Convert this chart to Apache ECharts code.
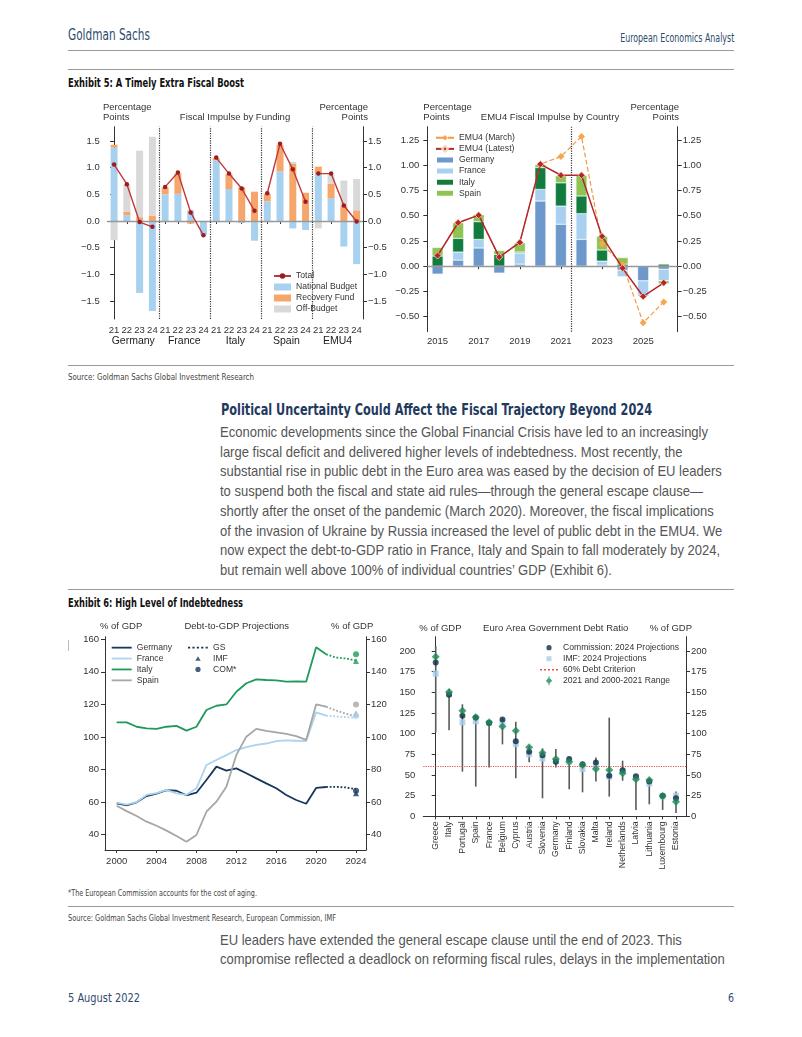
<!DOCTYPE html>
<html><head><meta charset="utf-8">
<script src="https://cdn.jsdelivr.net/npm/echarts@6/dist/echarts.min.js"></script>
<style>
html,body{margin:0;padding:0;background:#fff;}
#page{position:relative;width:802px;height:1037px;overflow:hidden;font-family:"Liberation Sans",Arial,sans-serif;}
.c{position:absolute;left:0;top:0;width:802px;height:1037px;}
.t{position:absolute;white-space:nowrap;line-height:1;transform-origin:left center;}
.r{transform-origin:right center;}
.rule{position:absolute;left:68px;width:666px;height:0;border-top:1px solid #9a9a9a;}
.hd{font-family:"Liberation Sans Narrow","DejaVu Sans Condensed","Liberation Sans",sans-serif;}
.body{font-size:14.5px;color:#555;}
</style></head><body><div id="page">
<div class="t hd" style="left:68px;top:28px;font-size:15px;color:#2e4b6e;" data-w="82">Goldman Sachs</div>
<div class="t hd r" style="right:68px;top:32px;font-size:12px;color:#2e4b6e;" data-w="114">European Economics Analyst</div>
<div class="rule" style="top:50px;"></div>
<div class="rule" style="top:69px;"></div>
<div class="t hd" style="left:68px;top:77px;font-size:12px;font-weight:bold;color:#111;" data-w="176">Exhibit 5: A Timely Extra Fiscal Boost</div>
<div class="rule" style="top:365px;"></div>
<div class="t hd" style="left:68px;top:372.5px;font-size:9px;color:#444;" data-w="186">Source: Goldman Sachs Global Investment Research</div>
<div class="t hd" style="left:221px;top:402px;font-size:16px;font-weight:bold;color:#1f3a5f;" data-w="431">Political Uncertainty Could Affect the Fiscal Trajectory Beyond 2024</div>
<div class="t body" id="b0" style="left:220px;top:425px;">Economic developments since the Global Financial Crisis have led to an increasingly</div>
<div class="t body" style="left:220px;top:444.7px;">large fiscal deficit and delivered higher levels of indebtedness. Most recently, the</div>
<div class="t body" style="left:220px;top:464.4px;">substantial rise in public debt in the Euro area was eased by the decision of EU leaders</div>
<div class="t body" style="left:220px;top:484.1px;">to suspend both the fiscal and state aid rules—through the general escape clause—</div>
<div class="t body" style="left:220px;top:503.8px;">shortly after the onset of the pandemic (March 2020). Moreover, the fiscal implications</div>
<div class="t body" style="left:220px;top:523.5px;">of the invasion of Ukraine by Russia increased the level of public debt in the EMU4. We</div>
<div class="t body" style="left:220px;top:543.2px;">now expect the debt-to-GDP ratio in France, Italy and Spain to fall moderately by 2024,</div>
<div class="t body" style="left:220px;top:562.9px;">but remain well above 100% of individual countries’ GDP (Exhibit 6).</div>
<div class="rule" style="top:589px;"></div>
<div class="t hd" style="left:68px;top:597px;font-size:12px;font-weight:bold;color:#111;" data-w="175">Exhibit 6: High Level of Indebtedness</div>
<div style="position:absolute;left:68px;top:640px;width:1px;height:11px;background:#bbb;"></div>
<div class="t hd" style="left:68px;top:888.5px;font-size:9px;color:#444;" data-w="189">*The European Commission accounts for the cost of aging.</div>
<div class="rule" style="top:906px;"></div>
<div class="t hd" style="left:68px;top:913.5px;font-size:9px;color:#444;" data-w="268">Source: Goldman Sachs Global Investment Research, European Commission, IMF</div>
<div class="t body" style="left:220px;top:932.5px;">EU leaders have extended the general escape clause until the end of 2023. This</div>
<div class="t body" style="left:220px;top:952.2px;">compromise reflected a deadlock on reforming fiscal rules, delays in the implementation</div>
<div class="t hd" style="left:68px;top:992px;font-size:12px;color:#2e4b6e;" data-w="72">5 August 2022</div>
<div class="t hd r" style="right:68px;top:992px;font-size:12px;color:#2e4b6e;" data-w="6">6</div>
<div class="c" id="c1"></div>
<div class="c" id="c2"></div>
<div class="c" id="c3"></div>
<div class="c" id="c4"></div>
</div>
<script>
// ===== Exhibit 5 (left): Fiscal Impulse by Funding =====
const fundGroups = ['Germany','France','Italy','Spain','EMU4'];
const fundYears = ['21','22','23','24'];
const nationalBudget = [1.38,0.11,-1.35,-1.69, 0.50,0.51,0.18,-0.26, 1.14,0.60,-0.04,-0.37, 0.37,0.93,-0.14,-0.17, 0.875,0.43,-0.48,-0.81];
const recoveryFund   = [0.05,0.06,0.07,0.10, 0.13,0.38,-0.05,0.00, 0.04,0.28,0.63,0.55, 0.14,0.50,1.07,0.53, 0.145,0.27,0.28,0.20];
const offBudget      = [-0.36,0.51,1.25,1.48, 0,0,0.03,0, 0,0,0,0, 0,0,0.04,0, -0.14,0.17,0.48,0.59];
const totalImpulse   = [1.06,0.69,-0.02,-0.11, 0.64,0.91,0.16,-0.27, 1.19,0.89,0.61,0.19, 0.52,1.45,0.97,0.36, 0.89,0.89,0.29,-0.01];
const fundTicks = [-1.5,-1,-0.5,0,0.5,1,1.5];

// ===== Exhibit 5 (right): EMU4 Fiscal Impulse by Country =====
const impulseYears = [2015,2016,2017,2018,2019,2020,2021,2022,2023,2024,2025,2026];
const impGermany = [-0.08,0.06,0.18,-0.07,0.02,0.645,0.415,0.265,0.01,-0.04,-0.145,-0.03];
const impFrance  = [0,0.08,0.085,0,0.11,0.115,0.18,0.255,0.04,-0.065,-0.135,-0.115];
const impItaly   = [0.10,0.135,0.175,0.115,0.01,0.215,0.23,0.175,0.11,0.02,-0.015,0.02];
const impSpain   = [0.085,0.155,0.07,0.04,0.09,0.03,0.07,0.205,0.135,0.065,0,-0.03];
const emu4Latest = [0.105,0.43,0.505,0.09,0.235,1.01,0.90,0.90,0.295,-0.02,-0.30,-0.165];
const emu4March  = [0.105,0.43,0.505,0.09,0.235,1.01,1.085,1.285,0.22,0.015,-0.56,-0.355];
const impYearLabels = [2015,2017,2019,2021,2023,2025];
const impTicks = [-0.5,-0.25,0,0.25,0.5,0.75,1,1.25];

// ===== Exhibit 6 (left): Debt-to-GDP Projections =====
const debtYears = [2000,2001,2002,2003,2004,2005,2006,2007,2008,2009,2010,2011,2012,2013,2014,2015,2016,2017,2018,2019,2020,2021];
const debtGermany = [59.2,58.0,59.9,63.7,65.2,67.4,67.0,64.2,65.8,73.6,81.8,79.3,80.7,77.7,74.6,71.5,68.5,64.4,61.3,59.0,68.7,69.3];
const debtFrance  = [59.7,58.5,60.0,64.4,65.5,67.5,65.4,64.5,68.5,82.8,85.9,88.9,92.0,93.8,95.1,96.0,97.5,97.9,97.7,97.5,115.1,113.1];
const debtItaly   = [109.0,109.0,106.3,105.3,105.0,106.3,106.8,103.9,106.3,116.6,119.2,120.0,127.8,133.0,135.4,135.0,134.8,134.0,134.2,134.0,155.1,150.8];
const debtSpain   = [57.8,54.5,51.5,48.0,45.5,42.5,39.2,35.7,39.8,54.1,60.3,69.5,89.0,100.2,105.0,103.7,102.8,101.9,100.5,98.2,120.0,118.6];
const projYears = [2021,2022,2023,2024];
const gsGermany = [69.3,69.4,69.0,68.0];
const gsFrance  = [113.1,112.6,112.2,111.8];
const gsItaly   = [150.8,148.8,148.2,146.9];
const gsSpain   = [118.6,116.3,114.2,112.6];
const projCountries = ['Germany','France','Italy','Spain'];
const imf2024Debt = [65.5,113.6,146.7,114.6];
const com2024Debt = [67.0,113.0,150.8,120.0];
const debtYearLabels = [2000,2004,2008,2012,2016,2020,2024];
const debtTicks = [40,60,80,100,120,140,160];

// ===== Exhibit 6 (right): Euro Area Government Debt Ratio =====
const eaCountries = ['Greece','Italy','Portugal','Spain','France','Belgium','Cyprus','Austria','Slovenia','Germany','Finland','Slovakia','Malta','Ireland','Netherlands','Latvia','Lithuania','Luxembourg','Estonia'];
const eaCommission = [186,147,121.8,119.5,113,117,90.7,78.2,74,66,69.4,62.9,65,49,55.6,48.4,42,25,21.8];
const eaIMF        = [172.6,148,113.7,115,113,112.5,87.5,75,70,67.3,66,57.3,61.3,48,54,46.8,39.5,24,25];
const ea2021       = [193,150.4,127.8,119.8,113.7,108.5,103.6,83.5,77,69.4,66.1,62.1,57.3,56,52,44.8,44,24.6,17.7];
const eaRangeMin   = [101.6,104,54,35.9,58.9,87,46,65.3,21.8,58.9,32.7,29,42,23.8,43,7.7,14.5,7.7,4];
const eaRangeMax   = [206,154,135.5,122.6,115.3,118.5,114.5,85,82.3,81.5,71.4,65,71,119.4,67.3,49.2,46,25.8,30];
const debtCriterion = 60;
const eaTicks = [0,25,50,75,100,125,150,175,200];

const FF = 'Liberation Sans';
const AX = '#333';
const FS = 9.5;
const LFS = 8.6;
function minus(v, d){ return (v < 0 ? '\u2212' : '') + Math.abs(v).toFixed(d); }
function txt(x, y, s, align){ return {type:'text', x:x, y:y, silent:true, style:{text:s, fill:'#333', fontFamily:FF, fontSize:FS, align:align||'left', verticalAlign:'middle'}}; }
function yAx(pos, min, max, ticks, fmt, margin, extra){
  return Object.assign({type:'value', position:pos, min:min, max:max,
    axisLine:{show:true, lineStyle:{color:AX, width:1}},
    axisTick:{show:true, length:4, lineStyle:{color:AX}, customValues:ticks},
    axisLabel:{customValues:ticks, formatter:fmt, color:'#333', fontFamily:FF, fontSize:FS, margin:margin},
    splitLine:{show:false}}, extra||{});
}
function legendText(lh){ return {fontSize:LFS, color:'#333', fontFamily:FF, lineHeight:lh}; }
// legend icon paths (box points first so the icon keeps its place inside the item box)
const ICON_LINE = 'path://M0,0 M20,7 M0,2.6 L20,2.6 L20,4.4 L0,4.4 Z';
const ICON_DOTS = 'path://M0,0 M20,7 M0,2.6h2.2v1.8h-2.2z M4.4,2.6h2.2v1.8h-2.2z M8.8,2.6h2.2v1.8h-2.2z M13.2,2.6h2.2v1.8h-2.2z M17.6,2.6h2.2v1.8h-2.2z';
const ICON_TRI  = 'path://M0,0 M20,7 M7.3,5.8 L10,1.2 L12.7,5.8 Z';
const ICON_DOT  = 'path://M0,0 M20,7 M7.4,3.5 A2.6,2.6 0 1,0 12.6,3.5 A2.6,2.6 0 1,0 7.4,3.5 Z';
const ICON_SQ   = 'path://M0,0 M18,9 M6.5,2 h5 v5 h-5 Z';
const ICON_DOT9 = 'path://M0,0 M18,9 M6.4,4.5 A2.6,2.6 0 1,0 11.6,4.5 A2.6,2.6 0 1,0 6.4,4.5 Z';
const ICON_RED  = 'path://M0,0 M18,9 M0,3.7h2v1.6h-2z M4,3.7h2v1.6h-2z M8,3.7h2v1.6h-2z M12,3.7h2v1.6h-2z M16,3.7h2v1.6h-2z';
const ICON_RNG  = 'path://M0,0 M18,9 M8.5,0 h1 v9 h-1 Z M9,1.2 L12.2,4.5 L9,7.8 L5.8,4.5 Z';

// ---------- chart 1 ----------
const fundCats = [];
fundGroups.forEach(g => fundYears.forEach(y => fundCats.push(g + ' ' + y)));
const c1 = echarts.init(document.getElementById('c1'));
const totalSeries = fundGroups.map((g, gi) => ({
  type:'line', name:'Total', xAxisIndex:0, yAxisIndex:0,
  data: totalImpulse.map((v, i) => Math.floor(i/4) === gi ? v : null),
  connectNulls:false, symbol:'circle', symbolSize:4.5,
  lineStyle:{color:'#c0393b', width:1.4}, itemStyle:{color:'#9b1c22'}, z:5
}));
c1.setOption({
  animation:false, textStyle:{fontFamily:FF},
  grid:{left:107.7, top:126.7, width:255.3, height:192.3},
  xAxis:[
    {type:'category', data:fundCats, gridIndex:0,
      axisLine:{lineStyle:{color:AX}}, axisTick:{show:true, alignWithLabel:true, length:3, lineStyle:{color:AX}},
      axisLabel:{interval:0, formatter:v => v.split(' ')[1], color:'#333', fontSize:FS, margin:6}},
    {type:'category', data:fundGroups, gridIndex:0, position:'bottom', offset:11.5,
      axisLine:{show:false}, axisTick:{show:false},
      axisLabel:{interval:0, color:'#222', fontSize:10.5, margin:5.5}},
    {type:'value', gridIndex:0, min:-0.5, max:19.5, show:false}
  ],
  yAxis:[
    yAx('left', -1.84, 1.77, fundTicks, v => minus(v,1), 8),
    yAx('right', -1.84, 1.77, fundTicks, v => minus(v,1), 5)
  ],
  legend:{orient:'vertical', left:273, top:270.5, padding:0, itemWidth:17, itemHeight:7, itemGap:0,
    textStyle:legendText(11),
    data:[{name:'Total'},{name:'National Budget', icon:'rect'},{name:'Recovery Fund', icon:'rect'},{name:'Off-Budget', icon:'rect'}]},
  graphic:[txt(103,107,'Percentage'), txt(103,117.5,'Points'), txt(235,117.5,'Fiscal Impulse by Funding','center'),
           txt(368,107,'Percentage','right'), txt(368,117.5,'Points','right')],
  series:[
    {type:'bar', name:'National Budget', stack:'f', data:nationalBudget, barWidth:7, itemStyle:{color:'#a8d1f0'}},
    {type:'bar', name:'Recovery Fund', stack:'f', data:recoveryFund, barWidth:7, itemStyle:{color:'#f6a66a'}},
    {type:'bar', name:'Off-Budget', stack:'f', data:offBudget, barWidth:7, itemStyle:{color:'#d9d9d9'}},
    {type:'line', name:'zero', xAxisIndex:2, yAxisIndex:0, data:[], symbol:'none',
      markLine:{silent:true, symbol:'none', label:{show:false},
        data:[{yAxis:0, lineStyle:{color:'#999', width:1.3, type:'solid'}}].concat(
          [3.5,7.5,11.5,15.5].map(x => ({xAxis:x, lineStyle:{color:'#333', width:1.2, type:'dotted'}})))}},
    ...totalSeries
  ]
});

// ---------- chart 2 ----------
const c2 = echarts.init(document.getElementById('c2'));
const barOpt = {type:'bar', stack:'c', barWidth:11, xAxisIndex:1, yAxisIndex:2};
c2.setOption({
  animation:false, textStyle:{fontFamily:FF},
  grid:[{left:427.3, top:126.7, width:250.4, height:205}, {left:427.3, top:126.7, width:246.7, height:205}],
  xAxis:[
    {type:'value', gridIndex:0, min:2014.5, max:2026.67,
      axisLine:{lineStyle:{color:AX}}, axisTick:{length:3, lineStyle:{color:AX}, customValues:impYearLabels},
      axisLabel:{customValues:impYearLabels, formatter:v => String(v), color:'#333', fontSize:FS, margin:5}, splitLine:{show:false}},
    {type:'category', gridIndex:1, data:impulseYears.map(String), show:false}
  ],
  yAxis:[
    yAx('left', -0.649, 1.381, impTicks, v => minus(v,2), 8, {gridIndex:0}),
    yAx('right', -0.649, 1.381, impTicks, v => minus(v,2), 5, {gridIndex:0}),
    {type:'value', gridIndex:1, min:-0.649, max:1.381, show:false}
  ],
  legend:{orient:'vertical', left:435, top:132.2, padding:0, itemWidth:18, itemHeight:7, itemGap:0,
    textStyle:legendText(11.1),
    data:[{name:'EMU4 (March)'},{name:'EMU4 (Latest)'},{name:'Germany',icon:'rect'},{name:'France',icon:'rect'},{name:'Italy',icon:'rect'},{name:'Spain',icon:'rect'}]},
  graphic:[txt(423.3,107,'Percentage'), txt(423.3,117.5,'Points'), txt(550,117.5,'EMU4 Fiscal Impulse by Country','center'),
           txt(679,107,'Percentage','right'), txt(679,117.5,'Points','right')],
  series:[
    Object.assign({name:'Germany', data:impGermany, itemStyle:{color:'#6d98cc', borderColor:'#fff', borderWidth:0.4}}, barOpt),
    Object.assign({name:'France', data:impFrance, itemStyle:{color:'#a9d0f0', borderColor:'#fff', borderWidth:0.4}}, barOpt),
    Object.assign({name:'Italy', data:impItaly, itemStyle:{color:'#127c3f', borderColor:'#fff', borderWidth:0.4}}, barOpt),
    Object.assign({name:'Spain', data:impSpain, itemStyle:{color:'#8dc453', borderColor:'#fff', borderWidth:0.4}}, barOpt),
    {type:'line', name:'zero', xAxisIndex:0, yAxisIndex:0, data:[], symbol:'none',
      markLine:{silent:true, symbol:'none', label:{show:false},
        data:[{yAxis:0, lineStyle:{color:'#999', width:1.3, type:'solid'}},
              {xAxis:2021.5, lineStyle:{color:'#333', width:1.2, type:'dotted'}}]}},
    {type:'line', name:'EMU4 (March)', xAxisIndex:1, yAxisIndex:2, data:emu4March, symbol:'diamond', symbolSize:7,
      lineStyle:{color:'#f39a3e', width:1.2, type:'dashed'}, itemStyle:{color:'#f7a64e'}, z:5},
    {type:'line', name:'EMU4 (Latest)', xAxisIndex:1, yAxisIndex:2, data:emu4Latest, symbol:'diamond', symbolSize:7,
      lineStyle:{color:'#b3262c', width:1.5}, itemStyle:{color:'#b3262c', borderColor:'#f6d2b8', borderWidth:0.8}, z:6}
  ]
});

// ---------- chart 3 ----------
const c3 = echarts.init(document.getElementById('c3'));
const debtColors = {Germany:'#17375e', France:'#a9d3ef', Italy:'#1f9a5b', Spain:'#a6a6a6'};
const debtActual = {Germany:debtGermany, France:debtFrance, Italy:debtItaly, Spain:debtSpain};
const debtGS = {Germany:gsGermany, France:gsFrance, Italy:gsItaly, Spain:gsSpain};
const s3 = [];
projCountries.forEach(c => s3.push({type:'line', name:c, symbol:'none', data:debtYears.map((y,i)=>[y, debtActual[c][i]]),
  lineStyle:{color:debtColors[c], width:1.8}, itemStyle:{color:debtColors[c]}}));
projCountries.forEach(c => s3.push({type:'line', name:'GS', symbol:'none', data:projYears.map((y,i)=>[y, debtGS[c][i]]),
  lineStyle:{color:debtColors[c], width:1.8, type:'dotted'}, itemStyle:{color:debtColors[c]}}));
s3.push({type:'scatter', name:'IMF', symbol:'triangle', symbolSize:6, itemStyle:{color:'#17375e'},
  data:projCountries.map((c,i)=>({value:[2024, imf2024Debt[i]], itemStyle:{color:debtColors[c]}})), z:6});
s3.push({type:'scatter', name:'COM*', symbol:'circle', symbolSize:6, itemStyle:{color:'#17375e'},
  data:projCountries.map((c,i)=>({value:[2024, com2024Debt[i]], itemStyle:{color:debtColors[c]}})), z:6});
c3.setOption({
  animation:false, textStyle:{fontFamily:FF},
  grid:{left:105, top:636.7, width:261, height:213.3},
  xAxis:{type:'value', min:1998.83, max:2025.0,
    axisLine:{lineStyle:{color:AX}}, axisTick:{length:3, lineStyle:{color:AX}, customValues:debtYearLabels},
    axisLabel:{customValues:debtYearLabels, formatter:v => String(v), color:'#333', fontSize:FS, margin:6}, splitLine:{show:false}},
  yAxis:[
    yAx('left', 30.6, 161.6, debtTicks, v => String(v), 6),
    yAx('right', 30.6, 161.6, debtTicks, v => String(v), 5)
  ],
  legend:[
    {orient:'vertical', left:111.7, top:642.2, padding:0, itemWidth:20, itemHeight:7, itemGap:0,
      textStyle:legendText(10.9), data:projCountries.map(n => ({name:n, icon:ICON_LINE}))},
    {orient:'vertical', left:188, top:642.2, padding:0, itemWidth:20, itemHeight:7, itemGap:0,
      textStyle:legendText(10.9), data:[{name:'GS', icon:ICON_DOTS},{name:'IMF', icon:ICON_TRI},{name:'COM*', icon:ICON_DOT}]}
  ],
  graphic:[txt(100,626.7,'% of GDP'), txt(236.7,626.7,'Debt-to-GDP Projections','center'), txt(373.3,626.7,'% of GDP','right')],
  series:s3
});

// ---------- chart 4 ----------
const c4 = echarts.init(document.getElementById('c4'));
const eaIdx = eaCountries.map((c,i)=>i);
c4.setOption({
  animation:false, textStyle:{fontFamily:FF},
  grid:{left:423.3, top:636.7, width:262.7, height:179.6},
  xAxis:{type:'value', min:-0.93, max:18.75,
    axisLine:{lineStyle:{color:AX}}, axisTick:{length:3, lineStyle:{color:AX}, customValues:eaIdx},
    axisLabel:{customValues:eaIdx, formatter:v => eaCountries[Math.round(v)], rotate:90, color:'#333', fontSize:8.7, margin:5},
    splitLine:{show:false}},
  yAxis:[
    yAx('left', 0, 217.3, eaTicks, v => String(v), 8),
    yAx('right', 0, 217.3, eaTicks, v => String(v), 5)
  ],
  legend:{orient:'vertical', left:540, top:642.2, padding:0, itemWidth:18, itemHeight:9, itemGap:0,
    textStyle:legendText(11),
    data:[{name:'Commission: 2024 Projections', icon:ICON_DOT9},{name:'IMF: 2024 Projections', icon:ICON_SQ},
          {name:'60% Debt Criterion', icon:ICON_RED},{name:'2021 and 2000-2021 Range', icon:ICON_RNG}]},
  graphic:[txt(419.3,628.3,'% of GDP'), txt(555.7,628.3,'Euro Area Government Debt Ratio','center'), txt(692,628.3,'% of GDP','right')],
  series:[
    {type:'custom', name:'range', coordinateSystem:'cartesian2d', silent:true,
      data:eaIdx.map(i => [i, eaRangeMin[i], eaRangeMax[i]]), encode:{x:0, y:[1,2]},
      renderItem:(params, api) => {
        const p1 = api.coord([api.value(0), api.value(1)]);
        const p2 = api.coord([api.value(0), api.value(2)]);
        return {type:'line', shape:{x1:p1[0], y1:p1[1], x2:p2[0], y2:p2[1]}, style:{stroke:'#5a5a5a', lineWidth:1.6}};
      }},
    {type:'line', name:'60% Debt Criterion', data:[], symbol:'none', lineStyle:{color:'#e0534a', width:1.4, type:'dotted'},
      itemStyle:{color:'#e0534a'},
      markLine:{silent:true, symbol:'none', label:{show:false}, lineStyle:{color:'#e0534a', width:1.2, type:'dotted'}, data:[{yAxis:debtCriterion}]}},
    {type:'scatter', name:'IMF: 2024 Projections', symbol:'rect', symbolSize:6, itemStyle:{color:'#a9cce8'},
      data:eaIdx.map(i => [i, eaIMF[i]]), z:3},
    {type:'scatter', name:'Commission: 2024 Projections', symbol:'circle', symbolSize:6, itemStyle:{color:'#0f2a47'},
      data:eaIdx.map(i => [i, eaCommission[i]]), z:4},
    {type:'scatter', name:'2021 and 2000-2021 Range', symbol:'diamond', symbolSize:8, itemStyle:{color:'#1c8a56'},
      data:eaIdx.map(i => [i, ea2021[i]]), z:5}
  ]
});

// ---------- text fitting ----------
function fitAll(){
  document.querySelectorAll('[data-w]').forEach(el => {
    el.style.transform = 'none';
    const w = el.getBoundingClientRect().width;
    el.style.transform = 'scaleX(' + (parseFloat(el.dataset.w) / w) + ')';
  });
  const b0 = document.getElementById('b0');
  b0.style.transform = 'none';
  const k = 488 / b0.getBoundingClientRect().width;
  document.querySelectorAll('.body').forEach(el => { el.style.transform = 'scaleX(' + k + ')'; });
}
fitAll();
</script>
</body></html>
